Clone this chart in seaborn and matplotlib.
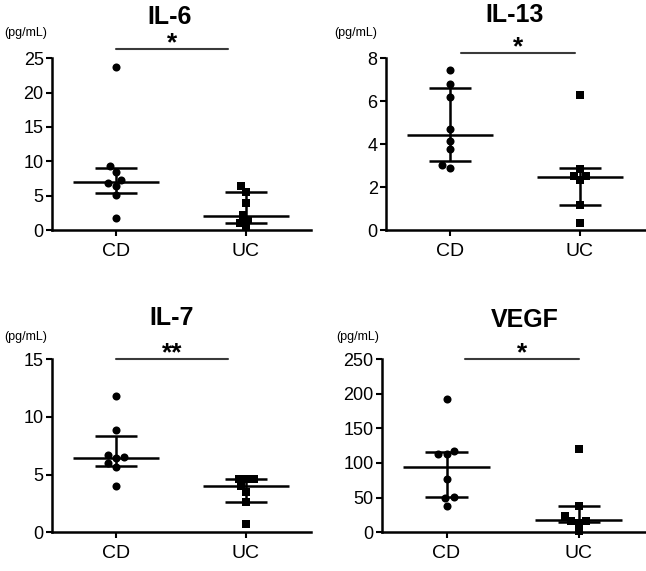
import numpy as np
import pandas as pd
import seaborn as sns
import matplotlib.pyplot as plt

# groups
groups = ["CD", "UC"]

# IL-6 (pg/mL)
il6_cd = [23.7, 9.35, 8.5, 7.3, 6.9, 6.4, 5.1, 1.75]
il6_uc = [6.4, 5.6, 3.9, 2.2, 1.5, 1.1, 0.5]
# IL-13
il13_cd = [7.47, 6.78, 6.2, 4.7, 4.15, 3.77, 3.02, 2.91]
il13_uc = [6.31, 2.84, 2.51, 2.51, 2.33, 1.18, 0.34]
# IL-7
il7_cd = [11.8, 8.9, 6.7, 6.5, 6.4, 6.0, 5.65, 4.0]
il7_uc = [4.58, 4.58, 4.58, 4.0, 3.5, 2.6, 0.67]
# VEGF
vegf_cd = [192.6, 116.8, 112.5, 112.5, 77.2, 51.0, 48.7, 37.2]
vegf_uc = [120.7, 37.2, 22.7, 16.4, 13.5, 16.4, 1.9]

# median and interquartile range, [CD, UC]
il6_med, il6_q1, il6_q3 = [7.0, 2.1], [5.4, 1.1], [9.1, 5.6]
il13_med, il13_q1, il13_q3 = [4.42, 2.48], [3.22, 1.19], [6.62, 2.87]
il7_med, il7_q1, il7_q3 = [6.46, 4.0], [5.73, 2.6], [8.34, 4.58]
vegf_med, vegf_q1, vegf_q3 = [93.6, 16.9], [50.2, 15.0], [115.8, 37.2]

titles = ["IL-6", "IL-13", "IL-7", "VEGF"]
stars = ["*", "*", "**", "*"]
ymax = [25, 8, 15, 250]
ystep = [5, 2, 5, 50]

panels = [
    (il6_cd, il6_uc, il6_med, il6_q1, il6_q3),
    (il13_cd, il13_uc, il13_med, il13_q1, il13_q3),
    (il7_cd, il7_uc, il7_med, il7_q1, il7_q3),
    (vegf_cd, vegf_uc, vegf_med, vegf_q1, vegf_q3),
]

sns.set_style("ticks")
plt.rcParams['font.family'] = ['Liberation Sans', 'DejaVu Sans']
plt.rcParams['text.color'] = 'black'
plt.rcParams['axes.edgecolor'] = 'black'
plt.rcParams['xtick.color'] = 'black'
plt.rcParams['ytick.color'] = 'black'

fig = plt.figure(figsize=(6.46, 5.71), dpi=100)
axes_pos = [
    [0.0805, 0.597, 0.401, 0.301],
    [0.5975, 0.597, 0.401, 0.301],
    [0.0805, 0.068, 0.401, 0.303],
    [0.591, 0.068, 0.407, 0.303],
]
# significance bar (x from, x to, y in axes coords), star y in axes coords
bars = [(0.0, 0.86, 1.052), (0.09, 0.96, 1.029), (0.0, 0.86, 1.0), (0.14, 1.0, 1.0)]
star_y = [1.085, 1.065, 1.035, 1.035]
# title and unit label positions in figure coords
title_xy = [(0.263, 0.970), (0.797, 0.974), (0.265, 0.443), (0.813, 0.440)]
unit_xy = [(0.039, 0.942), (0.551, 0.942), (0.039, 0.410), (0.553, 0.410)]

for i, (cd, uc, med, q1, q3) in enumerate(panels):
    ax = fig.add_axes(axes_pos[i])
    df_cd = pd.DataFrame({"group": "CD", "value": cd})
    df_uc = pd.DataFrame({"group": "UC", "value": uc})
    sns.swarmplot(data=df_cd, x="group", y="value", order=groups, marker="o",
                  color="black", size=5.8, ax=ax, clip_on=False)
    sns.swarmplot(data=df_uc, x="group", y="value", order=groups, marker="s",
                  color="black", size=5.2, ax=ax, clip_on=False)
    for j in range(2):
        ax.hlines(med[j], j - 0.33, j + 0.33, color="black", lw=1.8)
        ax.hlines([q1[j], q3[j]], j - 0.16, j + 0.16, color="black", lw=1.8)
        ax.vlines(j, q1[j], q3[j], color="black", lw=1.8)

    ax.set_xlim(-0.49, 1.5)
    ax.set_ylim(0, ymax[i])
    ax.set_yticks(np.arange(0, ymax[i] + 1, ystep[i]))
    ax.set_xlabel("")
    ax.set_ylabel("")
    ax.tick_params(axis="y", labelsize=13, width=1.5, length=4, pad=2)
    ax.tick_params(axis="x", labelsize=14, width=1.5, length=4, pad=5)
    sns.despine(ax=ax)
    for s in ["left", "bottom"]:
        ax.spines[s].set_linewidth(1.8)

    trans = ax.get_xaxis_transform()
    x0, x1, yb = bars[i]
    ax.plot([x0, x1], [yb, yb], color="#3a3a3a", lw=1.5, transform=trans, clip_on=False)
    ax.text((x0 + x1) / 2, star_y[i], stars[i], transform=trans, ha="center",
            va="center", fontsize=19, fontweight="bold")
    fig.text(title_xy[i][0], title_xy[i][1], titles[i], ha="center",
             va="center", fontsize=18, fontweight="bold")
    fig.text(unit_xy[i][0], unit_xy[i][1], "(pg/mL)", ha="center",
             va="center", fontsize=9)

fig.savefig("out.png", dpi=100)
